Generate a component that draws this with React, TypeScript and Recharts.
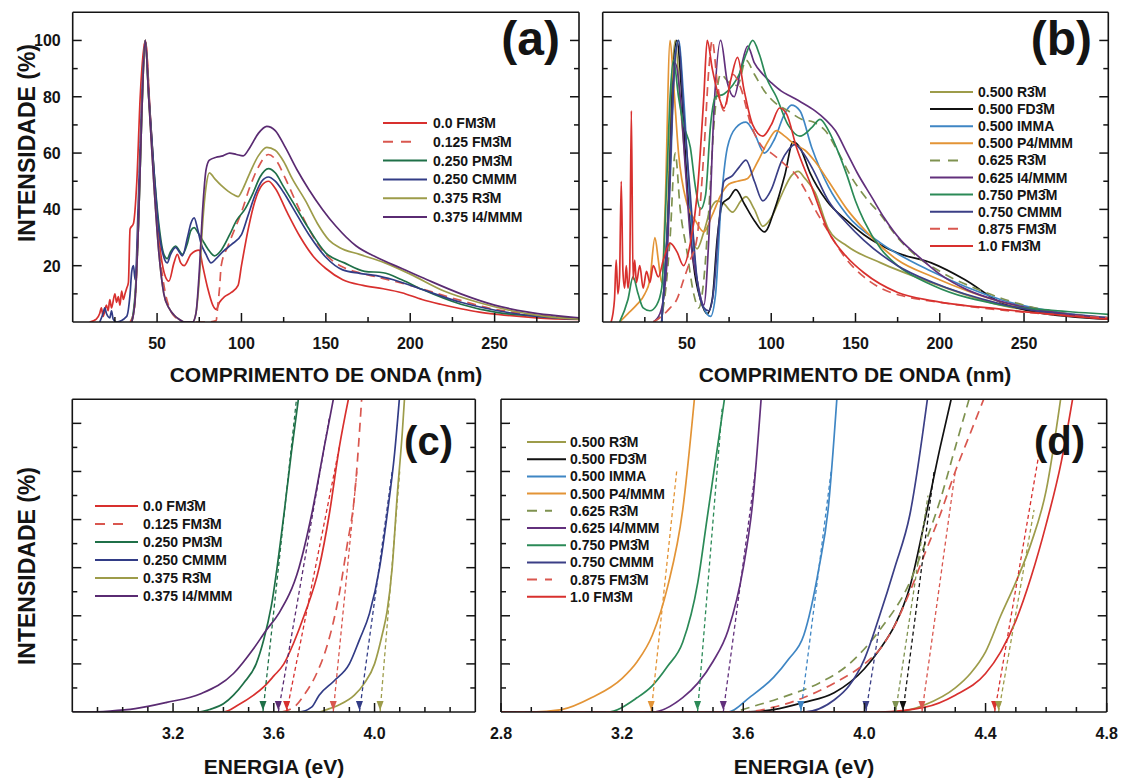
import { ComposedChart, Line, XAxis, YAxis } from 'recharts';

type Pt = [number, number];

const FONT = '"Liberation Sans", Arial, sans-serif';
const INK = '#141414';

// ---------- colours ----------
const RED = '#d8302e';
const RED_DASH = '#d9574f';
const GREEN_DK = '#1f7048';
const NAVY = '#323c86';
const OLIVE = '#9d9c4a';
const PURPLE = '#5a2b72';
const BLACK = '#111111';
const STEEL = '#3f86c4';
const ORANGE = '#e39436';
const OLIVE_DASH = '#7f9250';
const PURPLE_B = '#62307c';
const GREEN_B = '#2b8a57';
const NAVY_B = '#3b3f86';

// ---------- (a) x = nm, y = %
const A_X_TICKS = [25, 50, 75, 100, 125, 150, 175, 200, 225, 250, 275];
const A_X_LABELS = [50, 100, 150, 200, 250];
const A_Y_TICKS = [10, 20, 30, 40, 50, 60, 70, 80, 90, 100];
const A_Y_LABELS = [20, 40, 60, 80, 100];

const A_FM3M_000: Pt[] = [[10,0],[14,1],[16,3],[17,5],[18,2],[20,6],[21,4],[22,8],[23,5],[25,10],[26,7],[27,9],[28,6],[29,11],[30,8],[31,10],[32,12],[33,14],[34,33],[36,35],[38,50],[40,80],[43,100],[46,73],[49,45],[52,25],[55,16],[57,14.5],[60,21],[62,24],[64,21],[66,20],[70,24],[75,25.5],[77,20],[80,12],[83,6],[85,4.5],[87,7],[90,9],[94,10.5],[98,13],[100,20],[104,33],[108,43],[112,48.5],[116,50],[120,47.5],[127,39],[135,30],[143,23],[150,19],[160,15],[172,13],[184,11.8],[195,10.4],[207,8],[218,6.3],[230,4.7],[241,3.5],[252,2.7],[275,1.5],[300,0.9]];
const A_FM3M_125: Pt[] = [[34,0],[36,3],[37,8],[38,20],[40,60],[43,100],[46,72],[49,42],[52,22],[55,10],[58,4],[62,1],[66,0],[80,0],[85,0.5],[86,6],[87,12],[88,20],[92,27],[96,33],[100,39],[105,48],[110,55],[116,59.5],[121,57],[126,51],[132,43],[140,33],[150,24],[160,19.5],[170,17.5],[180,16],[200,13],[225,8.5],[250,4.5],[275,2.5],[300,1.2]];
const A_PM3M_250: Pt[] = [[35,0],[37,10],[39,35],[41,75],[43,100],[45,80],[48,55],[51,35],[54,24],[56,22.5],[58,25],[61,27],[63,25.5],[65,24],[68,28],[70,32.5],[72,33.5],[74,32],[77,29],[80,26],[84,23.5],[88,25.5],[93,31],[97,36],[102,40],[107,46],[111,51.5],[116,54.5],[120,53],[125,48],[130,43],[139,34],[150,24.5],[161,21],[173,18],[184,17.5],[195,15],[207,11.6],[230,6.3],[252,3.3],[275,2.1],[300,1.2]];
const A_CMMM_250: Pt[] = [[16,0],[18,3],[19,5],[20,3],[22,1.5],[23,4],[24,1],[26,0],[32,2],[34,10],[35,18],[36,20],[37,15],[39,45],[41,80],[43,100],[45,82],[48,55],[51,33],[54,23],[56,21],[58,24],[61,26.5],[63,25],[65,23.5],[68,30],[70,35],[72,37],[74,33],[76,28],[79,24],[82,21],[85,22.5],[89,25],[94,27.5],[100,31],[104,38],[108,45],[112,50],[116,51.5],[120,50],[125,46],[130,41],[140,31],[150,23],[160,18.5],[170,17.3],[180,16.5],[190,15],[205,12],[230,7],[252,4],[275,2],[300,1]];
const A_R3M_375: Pt[] = [[35,0],[37,8],[39,35],[41,75],[43,100],[45,80],[48,50],[51,25],[54,10],[57,5],[60,2.5],[63,1],[66,0],[71,0],[73,3],[75,15],[77,35],[79,48],[81,53],[84,51],[88,48.5],[92,46.5],[96,45],[98,44.5],[101,47.5],[105,53],[110,59],[115,62],[120,61],[125,57],[130,51],[138,43],[145,35],[152,29],[158,26.5],[170,24],[185,21],[200,17],[220,11],[240,7],[260,4],[280,2],[300,1]];
const A_I4MMM_375: Pt[] = [[35,0],[37,8],[39,35],[41,75],[43,100],[45,80],[48,50],[51,25],[54,10],[57,5],[60,2.5],[63,1],[66,0],[71,0],[73,3],[75,18],[77,40],[79,54],[81,57.5],[85,58.5],[89,59],[93,60],[97,59.5],[101,59],[105,62],[110,67],[115,69.5],[120,68],[126,62],[133,54],[140,47],[148,40],[156,34],[168,27],[180,23],[195,19],[210,15],[230,10],[250,6],[270,3.5],[300,1.5]];

// ---------- (b)
const B_R3M_500: Pt[] = [[35,0],[38,30],[41,85],[43,100],[46,78],[50,50],[53,32],[56,26],[60,32],[64,40],[68,43],[72,42],[77,39],[82,43],[85,44.5],[90,40],[95,34],[100,37],[106,45],[112,52],[116,53.5],[120,51],[126,46],[134,33],[145,27],[165,21],[195,14],[236,6],[270,2.8],[300,1]];
const B_FD3M_500: Pt[] = [[35,0],[39,40],[42,90],[44,100],[47,80],[50,50],[54,20],[58,8],[62,3],[65,8],[68,30],[71,42],[75,44],[79,47],[84,42],[90,36],[96,32],[102,40],[108,52],[113,64],[117,62],[123,53],[133,43],[145,36],[155,31],[175,24.5],[195,21],[215,15],[236,7],[257,3.5],[300,1]];
const B_IMMA_500: Pt[] = [[35,0],[40,50],[43,95],[45,100],[48,80],[52,40],[56,15],[60,5],[64,2],[67,10],[70,40],[74,62],[79,69],[85,71],[90,67],[96,60],[102,65],[108,74],[112,77],[117,75],[124,62],[134,48],[145,38],[165,28],[195,18],[236,8],[300,1.5]];
const B_P4MMM_500: Pt[] = [[10,0],[15,3],[20,6],[25,10],[28,15],[31,30],[33,22],[35,14],[37,40],[40,100],[42,85],[45,60],[50,42],[55,36],[60,32],[65,38],[70,45],[75,49],[80,50],[86,51],[92,57],[98,64],[103,68],[108,66],[114,63],[120,61],[126,57],[134,50],[145,40],[155,33],[175,22],[196,16],[237,7],[300,1.2]];
const B_R3M_625: Pt[] = [[30,0],[35,3],[40,30],[43,60],[46,40],[50,25],[54,10],[57,5],[60,15],[63,40],[66,70],[70,88],[75,85],[80,84],[85,93],[90,88],[96,82],[102,78],[110,75],[118,72],[125,71],[132,68],[140,60],[147,52],[155,45],[165,38],[175,30],[185,24],[200,18],[225,11],[250,6],[275,3],[300,1.5]];
const B_I4MMM_625: Pt[] = [[30,0],[34,3],[38,20],[41,70],[43,92],[46,80],[49,55],[52,30],[56,15],[60,6],[63,30],[66,75],[70,100],[74,85],[78,80],[82,90],[86,98],[90,92],[95,88],[100,85],[106,82],[112,80],[118,78],[126,75],[132,72],[138,68],[145,60],[151,53],[160,44],[167,37],[177,29],[186,24],[200,17],[216,11.5],[235,7.5],[257,4.5],[300,1.5]];
const B_PM3M_750: Pt[] = [[10,0],[15,8],[18,16],[21,10],[24,5],[28,4],[32,6],[35,12],[38,50],[40,80],[42,93],[45,80],[48,70],[52,62],[55,48],[58,40],[61,45],[64,70],[67,80],[72,81],[77,84],[81,88],[85,95],[89,100],[93,95],[97,87],[103,80],[110,70],[117,66],[124,69],[129,72],[134,68],[140,60],[145,52],[150,43],[155,36],[165,26],[175,20],[196,13],[237,6],[270,4],[300,2.7]];
const B_CMMM_750: Pt[] = [[35,0],[39,40],[42,85],[45,100],[48,75],[52,45],[56,15],[60,5],[63,4],[66,12],[69,35],[72,50],[77,52],[81,55],[85,57.5],[90,50],[95,43],[100,47],[106,57],[110,61],[114,63],[119,60],[124,55],[134,43],[145,35],[155,29],[175,20],[196,14],[237,6.3],[300,1.3]];
const B_FM3M_875: Pt[] = [[30,0],[35,2],[40,5],[44,8],[48,15],[52,22],[56,30],[60,60],[63,90],[65,100],[68,85],[72,75],[77,88],[82,83],[88,70],[95,62],[100,60],[108,56],[115,52],[120,47],[126,40],[134,32],[145,22],[155,16],[165,12],[180,9],[200,7],[225,5],[250,3.5],[275,2.3],[300,1.5]];
const B_FM3M_100: Pt[] = [[5,0],[7,8],[8,22],[9,10],[10,16],[11,50],[12,18],[13,12],[14,20],[15,12],[16,18],[17,75],[18,15],[19,22],[20,14],[22,20],[24,12],[26,18],[28,14],[30,20],[33,16],[36,22],[40,28],[44,25],[48,20],[52,28],[56,45],[60,80],[62,100],[65,90],[68,82],[72,76],[76,86],[80,94],[84,82],[89,70],[95,66],[100,70],[105,76],[109,74],[115,62],[124,48],[134,32],[145,23],[155,17.5],[175,10.5],[196,7.5],[237,4.5],[300,1]];

// ---------- (c) x = eV
const C_X_TICKS = [2.9, 3.0, 3.1, 3.2, 3.3, 3.4, 3.5, 3.6, 3.7, 3.8, 3.9, 4.0, 4.1, 4.2, 4.3];
const C_X_LABELS = [3.2, 3.6, 4.0];
const E_Y_TICKS = [0.5, 1, 1.5, 2, 2.5, 3, 3.5, 4, 4.5, 5, 5.5, 6];
const E_Y_MAJOR = [1, 2, 3, 4, 5, 6];

const C_FM3M_000: Pt[] = [[2.8,0],[3.40,0],[3.46,0.15],[3.52,0.35],[3.56,0.52],[3.60,0.75],[3.64,1.0],[3.68,1.45],[3.72,2.0],[3.78,3.0],[3.82,4.1],[3.86,5.5],[3.90,6.6]];
const C_FM3M_125: Pt[] = [[2.8,0],[3.62,0],[3.68,0.1],[3.72,0.35],[3.77,0.8],[3.81,1.35],[3.86,2.46],[3.89,3.43],[3.92,4.47],[3.95,6.6]];
const C_PM3M_250: Pt[] = [[2.8,0],[3.30,0],[3.35,0.06],[3.40,0.17],[3.44,0.35],[3.48,0.6],[3.53,1.0],[3.56,1.5],[3.59,2.2],[3.64,4.1],[3.67,5.4],[3.70,6.6]];
const C_CMMM_250: Pt[] = [[2.8,0],[3.70,0],[3.75,0.1],[3.78,0.35],[3.84,0.65],[3.90,1.0],[3.94,1.5],[3.98,2.05],[4.02,3.0],[4.05,4.1],[4.08,5.4],[4.10,6.6]];
const C_R3M_375: Pt[] = [[2.8,0],[3.78,0],[3.81,0.05],[3.86,0.15],[3.92,0.35],[3.96,0.6],[4.00,1.0],[4.03,1.6],[4.05,2.1],[4.07,3.0],[4.09,4.5],[4.11,5.8],[4.12,6.6]];
const C_I4MMM_375: Pt[] = [[2.8,0],[2.86,0],[2.95,0.02],[3.05,0.07],[3.175,0.2],[3.31,0.38],[3.44,0.8],[3.52,1.32],[3.57,1.7],[3.62,2.05],[3.70,3.0],[3.75,4.1],[3.80,5.5],[3.84,6.6]];
// tangent lines: [edge on the baseline, upper end]
const C_TAN_PM3M: Pt[] = [[3.557,0],[3.69,6.5]];
const C_TAN_I4MMM: Pt[] = [[3.618,0],[3.82,6.1]];
const C_TAN_FM3M_000: Pt[] = [[3.651,0],[3.86,5.5]];
const C_TAN_FM3M_125: Pt[] = [[3.836,0],[3.93,5.0]];
const C_TAN_CMMM: Pt[] = [[3.94,0],[4.07,5.0]];
const C_TAN_R3M: Pt[] = [[4.022,0],[4.10,5.0]];

// ---------- (d)
const D_X_TICKS = [2.8, 2.9, 3.0, 3.1, 3.2, 3.3, 3.4, 3.5, 3.6, 3.7, 3.8, 3.9, 4.0, 4.1, 4.2, 4.3, 4.4, 4.5, 4.6, 4.7, 4.8];
const D_X_LABELS = [2.8, 3.2, 3.6, 4.0, 4.4, 4.8];

const D_R3M_500: Pt[] = [[2.8,0],[4.10,0],[4.20,0.15],[4.30,0.5],[4.35,0.8],[4.40,1.25],[4.45,2.0],[4.50,2.7],[4.55,3.5],[4.60,4.6],[4.65,6.6]];
const D_FD3M_500: Pt[] = [[2.8,0],[3.60,0],[3.70,0.05],[3.80,0.2],[3.90,0.4],[4.00,0.9],[4.05,1.3],[4.10,1.8],[4.15,2.6],[4.20,4.0],[4.25,5.5],[4.29,6.6]];
const D_IMMA_500: Pt[] = [[2.8,0],[3.55,0],[3.62,0.3],[3.70,0.72],[3.75,1.1],[3.80,1.6],[3.85,3.0],[3.88,4.2],[3.91,6.6]];
const D_P4MMM_500: Pt[] = [[2.8,0],[2.90,0],[3.00,0.05],[3.10,0.3],[3.20,0.7],[3.25,1.05],[3.30,1.6],[3.35,2.6],[3.40,4.2],[3.44,6.6]];
const D_R3M_625: Pt[] = [[2.8,0],[3.55,0],[3.65,0.15],[3.75,0.35],[3.85,0.6],[3.95,1.0],[4.05,1.7],[4.15,2.7],[4.20,3.5],[4.25,4.4],[4.30,5.5],[4.35,6.6]];
const D_I4MMM_625: Pt[] = [[2.8,0],[3.30,0],[3.40,0.3],[3.45,0.6],[3.50,1.05],[3.55,1.7],[3.60,3.0],[3.63,4.3],[3.66,6.6]];
const D_PM3M_750: Pt[] = [[2.8,0],[3.15,0],[3.25,0.3],[3.30,0.55],[3.35,0.95],[3.40,1.45],[3.45,2.7],[3.48,4.0],[3.51,5.3],[3.54,6.6]];
const D_CMMM_750: Pt[] = [[2.8,0],[3.80,0],[3.90,0.25],[3.95,0.55],[4.00,1.1],[4.05,2.0],[4.10,3.0],[4.15,4.1],[4.21,6.6]];
const D_FM3M_875: Pt[] = [[2.8,0],[3.60,0],[3.70,0.1],[3.80,0.3],[3.90,0.6],[4.00,1.0],[4.05,1.3],[4.10,1.8],[4.15,2.5],[4.20,3.3],[4.25,4.1],[4.30,5.0],[4.35,5.8],[4.40,6.6]];
const D_FM3M_100: Pt[] = [[2.8,0],[4.05,0],[4.20,0.1],[4.30,0.35],[4.40,0.8],[4.45,1.25],[4.50,1.9],[4.55,2.8],[4.60,3.9],[4.65,5.2],[4.69,6.6]];
const D_TAN_P4MMM: Pt[] = [[3.296,0],[3.38,5.0]];
const D_TAN_PM3M: Pt[] = [[3.449,0],[3.53,6.3]];
const D_TAN_I4MMM: Pt[] = [[3.534,0],[3.64,5.0]];
const D_TAN_IMMA: Pt[] = [[3.79,0],[3.89,5.0]];
const D_TAN_CMMM: Pt[] = [[4.005,0],[4.05,1.8]];
const D_TAN_R3M_625: Pt[] = [[4.103,0],[4.21,4.5]];
const D_TAN_FD3M: Pt[] = [[4.127,0],[4.23,5.0]];
const D_TAN_FM3M_875: Pt[] = [[4.19,0],[4.30,5.0]];
const D_TAN_FM3M_100: Pt[] = [[4.43,0],[4.58,5.5]];
const D_TAN_R3M_500: Pt[] = [[4.443,0],[4.56,4.2]];

interface Serie { name: string; color: string; dash?: string; pts: Pt[] }
interface Tangent { color: string; pts: Pt[] }

const N_000 = '0.0 FM3\u0304M';
const N_125 = '0.125 FM3\u0304M';
const N_PM = '0.250 PM3\u0304M';
const N_CM = '0.250 CMMM';
const N_R3 = '0.375 R3\u0304M';
const N_I4 = '0.375 I4/MMM';

const SERIES_A: Serie[] = [
  { name: N_000, color: RED, pts: A_FM3M_000 },
  { name: N_125, color: RED_DASH, dash: '9 6', pts: A_FM3M_125 },
  { name: N_PM, color: GREEN_DK, pts: A_PM3M_250 },
  { name: N_CM, color: NAVY, pts: A_CMMM_250 },
  { name: N_R3, color: OLIVE, pts: A_R3M_375 },
  { name: N_I4, color: PURPLE, pts: A_I4MMM_375 },
];
const SERIES_C: Serie[] = [
  { name: N_000, color: RED, pts: C_FM3M_000 },
  { name: N_125, color: RED_DASH, dash: '9 6', pts: C_FM3M_125 },
  { name: N_PM, color: GREEN_DK, pts: C_PM3M_250 },
  { name: N_CM, color: NAVY, pts: C_CMMM_250 },
  { name: N_R3, color: OLIVE, pts: C_R3M_375 },
  { name: N_I4, color: PURPLE, pts: C_I4MMM_375 },
];
const TAN_C: Tangent[] = [
  { color: GREEN_DK, pts: C_TAN_PM3M },
  { color: PURPLE, pts: C_TAN_I4MMM },
  { color: RED, pts: C_TAN_FM3M_000 },
  { color: RED_DASH, pts: C_TAN_FM3M_125 },
  { color: NAVY, pts: C_TAN_CMMM },
  { color: OLIVE, pts: C_TAN_R3M },
];

const NB = [
  '0.500 R3\u0304M', '0.500 FD3\u0304M', '0.500 IMMA', '0.500 P4/MMM', '0.625 R3\u0304M',
  '0.625 I4/MMM', '0.750 PM3\u0304M', '0.750 CMMM', '0.875 FM3\u0304M', '1.0 FM3\u0304M',
];
const SERIES_B: Serie[] = [
  { name: NB[0], color: OLIVE, pts: B_R3M_500 },
  { name: NB[1], color: BLACK, pts: B_FD3M_500 },
  { name: NB[2], color: STEEL, pts: B_IMMA_500 },
  { name: NB[3], color: ORANGE, pts: B_P4MMM_500 },
  { name: NB[4], color: OLIVE_DASH, dash: '9 6', pts: B_R3M_625 },
  { name: NB[5], color: PURPLE_B, pts: B_I4MMM_625 },
  { name: NB[6], color: GREEN_B, pts: B_PM3M_750 },
  { name: NB[7], color: NAVY_B, pts: B_CMMM_750 },
  { name: NB[8], color: RED_DASH, dash: '9 6', pts: B_FM3M_875 },
  { name: NB[9], color: RED, pts: B_FM3M_100 },
];
const SERIES_D: Serie[] = [
  { name: NB[0], color: OLIVE, pts: D_R3M_500 },
  { name: NB[1], color: BLACK, pts: D_FD3M_500 },
  { name: NB[2], color: STEEL, pts: D_IMMA_500 },
  { name: NB[3], color: ORANGE, pts: D_P4MMM_500 },
  { name: NB[4], color: OLIVE_DASH, dash: '9 6', pts: D_R3M_625 },
  { name: NB[5], color: PURPLE_B, pts: D_I4MMM_625 },
  { name: NB[6], color: GREEN_B, pts: D_PM3M_750 },
  { name: NB[7], color: NAVY_B, pts: D_CMMM_750 },
  { name: NB[8], color: RED_DASH, dash: '9 6', pts: D_FM3M_875 },
  { name: NB[9], color: RED, pts: D_FM3M_100 },
];
const TAN_D: Tangent[] = [
  { color: ORANGE, pts: D_TAN_P4MMM },
  { color: GREEN_B, pts: D_TAN_PM3M },
  { color: PURPLE_B, pts: D_TAN_I4MMM },
  { color: STEEL, pts: D_TAN_IMMA },
  { color: NAVY_B, pts: D_TAN_CMMM },
  { color: OLIVE_DASH, pts: D_TAN_R3M_625 },
  { color: BLACK, pts: D_TAN_FD3M },
  { color: RED_DASH, pts: D_TAN_FM3M_875 },
  { color: RED, pts: D_TAN_FM3M_100 },
  { color: OLIVE, pts: D_TAN_R3M_500 },
];

const toXY = (pts: Pt[]) => pts.map(([x, y]) => ({ x, y }));
const has = (arr: number[], v: number) => arr.some((m) => Math.abs(m - v) < 1e-6);

const tickText = { fontFamily: FONT, fontWeight: 700, fontSize: 16, fill: INK };

function tickRenderer(side: 'bottom' | 'top' | 'left' | 'right', major: number[], labels: number[], fmt: (v: number) => string) {
  return (props: any) => {
    const { x, y, payload } = props;
    const v = payload.value as number;
    const len = has(major, v) ? 9 : 5;
    let line;
    if (side === 'bottom') line = <line x1={x} x2={x} y1={y} y2={y - len} />;
    else if (side === 'top') line = <line x1={x} x2={x} y1={y} y2={y + len} />;
    else if (side === 'left') line = <line x1={x} x2={x + len} y1={y} y2={y} />;
    else line = <line x1={x} x2={x - len} y1={y} y2={y} />;
    const show = has(labels, v);
    return (
      <g stroke={INK} strokeWidth={1.5}>
        {line}
        {show && side === 'bottom' && (
          <text x={x} y={y + 27} textAnchor="middle" stroke="none" style={tickText}>{fmt(v)}</text>
        )}
        {show && side === 'left' && (
          <text x={x - 12} y={y + 6} textAnchor="end" stroke="none" style={tickText}>{fmt(v)}</text>
        )}
      </g>
    );
  };
}

const arrowDot = (color: string) => (p: any) => {
  if (p.index !== 0) return <g key={p.key} />;
  const { cx, cy } = p;
  return (
    <path key={p.key} d={`M${cx - 3.5},${cy - 11} L${cx + 3.5},${cy - 11} L${cx},${cy - 1.5} Z`} fill={color} stroke="none" />
  );
};

interface PanelProps {
  left: number; top: number; width: number; height: number;
  margin: { top: number; right: number; bottom: number; left: number };
  xDomain: [number, number]; yDomain: [number, number];
  xTicks: number[]; xMajor: number[]; xLabels: number[];
  yTicks: number[]; yMajor: number[]; yLabels: number[];
  fmt: (v: number) => string;
  series: Serie[]; tangents: Tangent[];
}

const AXIS = { stroke: INK, strokeWidth: 1.6 };

// every axis is 1px thick, so the margins below are the plot edges minus 1
function Panel(p: PanelProps) {
  const m = { top: p.margin.top - 1, right: p.margin.right - 1, bottom: p.margin.bottom - 1, left: p.margin.left - 1 };
  return (
    <div style={{ position: 'absolute', left: p.left, top: p.top }}>
      <ComposedChart width={p.width} height={p.height} margin={m}>
        <XAxis xAxisId="b" dataKey="x" type="number" domain={p.xDomain} allowDataOverflow ticks={p.xTicks} interval={0}
          height={1} tickSize={0} tickMargin={0} tickLine={false} axisLine={AXIS}
          tick={tickRenderer('bottom', p.xMajor, p.xLabels, p.fmt)} />
        <XAxis xAxisId="t" orientation="top" type="number" domain={p.xDomain} allowDataOverflow ticks={p.xTicks} interval={0}
          height={1} tickSize={0} tickMargin={0} tickLine={false} axisLine={AXIS}
          tick={tickRenderer('top', p.xMajor, [], p.fmt)} />
        <YAxis yAxisId="l" dataKey="y" type="number" domain={p.yDomain} allowDataOverflow ticks={p.yTicks} interval={0}
          width={1} tickSize={0} tickMargin={0} tickLine={false} axisLine={AXIS}
          tick={tickRenderer('left', p.yMajor, p.yLabels, (v) => String(v))} />
        <YAxis yAxisId="r" orientation="right" type="number" domain={p.yDomain} allowDataOverflow ticks={p.yTicks} interval={0}
          width={1} tickSize={0} tickMargin={0} tickLine={false} axisLine={AXIS}
          tick={tickRenderer('right', p.yMajor, [], (v) => String(v))} />
        {p.series.map((s) => (
          <Line key={s.name} xAxisId="b" yAxisId="l" data={toXY(s.pts)} dataKey="y" type="monotone"
            stroke={s.color} strokeWidth={1.7} strokeDasharray={s.dash} dot={false} activeDot={false}
            isAnimationActive={false} />
        ))}
        {p.tangents.map((t, i) => (
          <Line key={'t' + i} xAxisId="b" yAxisId="l" data={toXY(t.pts)} dataKey="y" type="linear"
            stroke={t.color} strokeWidth={1.3} strokeDasharray="4 3" dot={arrowDot(t.color)} activeDot={false}
            isAnimationActive={false} />
        ))}
      </ComposedChart>
    </div>
  );
}

function LegendBlock({ series, x1, x2, tx, y0, dy }: { series: Serie[]; x1: number; x2: number; tx: number; y0: number; dy: number }) {
  return (
    <g>
      {series.map((s, i) => {
        const y = y0 + i * dy;
        return (
          <g key={s.name}>
            <line x1={x1} x2={s.dash ? x2 - 14 : x2} y1={y} y2={y} stroke={s.color} strokeWidth={2}
              strokeDasharray={s.dash ? '10 8' : undefined} />
            <text x={tx} y={y + 5} fill={INK} style={{ fontFamily: FONT, fontWeight: 700, fontSize: 14 }}>{s.name}</text>
          </g>
        );
      })}
    </g>
  );
}

const title = { fontFamily: FONT, fontWeight: 700, fontSize: 21, fill: INK };
const yTitle = { ...title, fontSize: 23 };
const tag = { fontFamily: FONT, fontWeight: 700, fill: INK };

export default function App() {
  const intFmt = (v: number) => String(v);
  const evFmt = (v: number) => v.toFixed(1);
  return (
    <div style={{ position: 'absolute', left: 0, top: 0, width: 1128, height: 779, background: '#fff', overflow: 'hidden' }}>
      <Panel left={0} top={0} width={600} height={390}
        margin={{ top: 12.3, left: 72.7, right: 21, bottom: 68 }}
        xDomain={[0, 300]} yDomain={[0, 110]}
        xTicks={A_X_TICKS} xMajor={A_X_LABELS} xLabels={A_X_LABELS}
        yTicks={A_Y_TICKS} yMajor={A_Y_LABELS} yLabels={A_Y_LABELS}
        fmt={intFmt} series={SERIES_A} tangents={[]} />
      <Panel left={590} top={0} width={538} height={390}
        margin={{ top: 12.3, left: 12.7, right: 19.7, bottom: 68 }}
        xDomain={[0, 300]} yDomain={[0, 110]}
        xTicks={A_X_TICKS} xMajor={A_X_LABELS} xLabels={A_X_LABELS}
        yTicks={A_Y_TICKS} yMajor={A_Y_LABELS} yLabels={[]}
        fmt={intFmt} series={SERIES_B} tangents={[]} />
      <Panel left={0} top={390} width={490} height={389}
        margin={{ top: 9.3, left: 72.3, right: 14.7, bottom: 67 }}
        xDomain={[2.8, 4.4]} yDomain={[0, 6.5]}
        xTicks={C_X_TICKS} xMajor={C_X_LABELS} xLabels={C_X_LABELS}
        yTicks={E_Y_TICKS} yMajor={E_Y_MAJOR} yLabels={[]}
        fmt={evFmt} series={SERIES_C} tangents={TAN_C} />
      <Panel left={490} top={390} width={638} height={389}
        margin={{ top: 9.3, left: 11, right: 21.3, bottom: 67 }}
        xDomain={[2.8, 4.8]} yDomain={[0, 6.5]}
        xTicks={D_X_TICKS} xMajor={D_X_LABELS} xLabels={D_X_LABELS}
        yTicks={E_Y_TICKS} yMajor={E_Y_MAJOR} yLabels={[]}
        fmt={evFmt} series={SERIES_D} tangents={TAN_D} />

      <svg width={1128} height={779} style={{ position: 'absolute', left: 0, top: 0, pointerEvents: 'none' }}>
        <text x={27} y={143} transform="rotate(-90 27 143)" textAnchor="middle" dominantBaseline="central" style={yTitle}>INTENSIDADE (%)</text>
        <text x={27} y={566} transform="rotate(-90 27 566)" textAnchor="middle" dominantBaseline="central" style={yTitle}>INTENSIDADE (%)</text>
        <text x={326} y={382} textAnchor="middle" style={title}>COMPRIMENTO DE ONDA (nm)</text>
        <text x={855} y={382} textAnchor="middle" style={title}>COMPRIMENTO DE ONDA (nm)</text>
        <text x={274} y={774} textAnchor="middle" style={title}>ENERGIA (eV)</text>
        <text x={804} y={774} textAnchor="middle" style={title}>ENERGIA (eV)</text>

        <text x={560} y={55} textAnchor="end" style={{ ...tag, fontSize: 48 }}>(a)</text>
        <text x={1092} y={55} textAnchor="end" style={{ ...tag, fontSize: 48 }}>(b)</text>
        <text x={453} y={455} textAnchor="end" style={{ ...tag, fontSize: 40 }}>(c)</text>
        <text x={1085} y={455} textAnchor="end" style={{ ...tag, fontSize: 40 }}>(d)</text>

        <LegendBlock series={SERIES_A} x1={383} x2={427} tx={433} y0={123} dy={18.8} />
        <LegendBlock series={SERIES_B} x1={930} x2={973} tx={978} y0={92} dy={17.1} />
        <LegendBlock series={SERIES_C} x1={95} x2={138} tx={143} y0={506} dy={18} />
        <LegendBlock series={SERIES_D} x1={527} x2={566} tx={570} y0={442} dy={17.2} />
      </svg>
    </div>
  );
}
